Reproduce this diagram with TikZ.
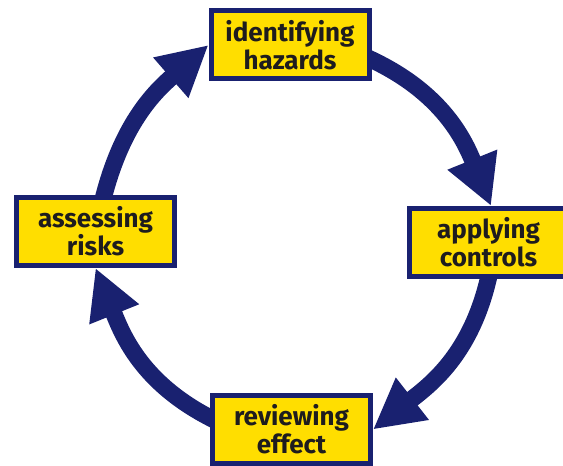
\documentclass[tikz,border=0pt]{standalone}
\usepackage{fontspec}
\setmainfont{Fira Sans}
\usetikzlibrary{arrows.meta,backgrounds}
\definecolor{ringblue}{RGB}{25,33,112}
\definecolor{boxyellow}{RGB}{255,222,0}
\definecolor{labelink}{RGB}{30,28,30}
\tikzstyle{stepbox}=[rectangle,draw=ringblue,fill=boxyellow,line width=2.5pt,minimum width=79pt,minimum height=34pt,inner sep=0pt,align=center,text=labelink,font=\fontsize{13}{14}\selectfont\bfseries]
\tikzstyle{cycleedge}=[draw=ringblue,line width=8.5pt,-{Triangle[length=25pt,width=25pt]},shorten <=-6pt]

\begin{document}
\begin{tikzpicture}[x=0.5pt,y=0.5pt]
    \useasboundingbox (0,0) rectangle (563,466);
    % The four steps of the cycle
    \foreach \pos/\name/\label in {{(290,421)/identify/{identifying\\hazards}}, {(95.5,234.5)/assess/{assessing\\risks}}, {(488.5,223.5)/control/{applying\\controls}}, {(291.5,36.5)/review/{reviewing\\effect}}}
        \node[stepbox] (\name) at \pos {\label};

    % Ring of arrows, kept behind the boxes
    \begin{scope}[on background layer]
  \foreach \source/ \dest /\o/\i in {assess.77/identify.west/77/-139, identify.350/control.86/-23/112, control.south/review.east/-101/38, review.172/assess.south/155/-68}
        \path[cycleedge] (\source) to[out=\o,in=\i] (\dest);
    \end{scope}
\end{tikzpicture}
\end{document}
